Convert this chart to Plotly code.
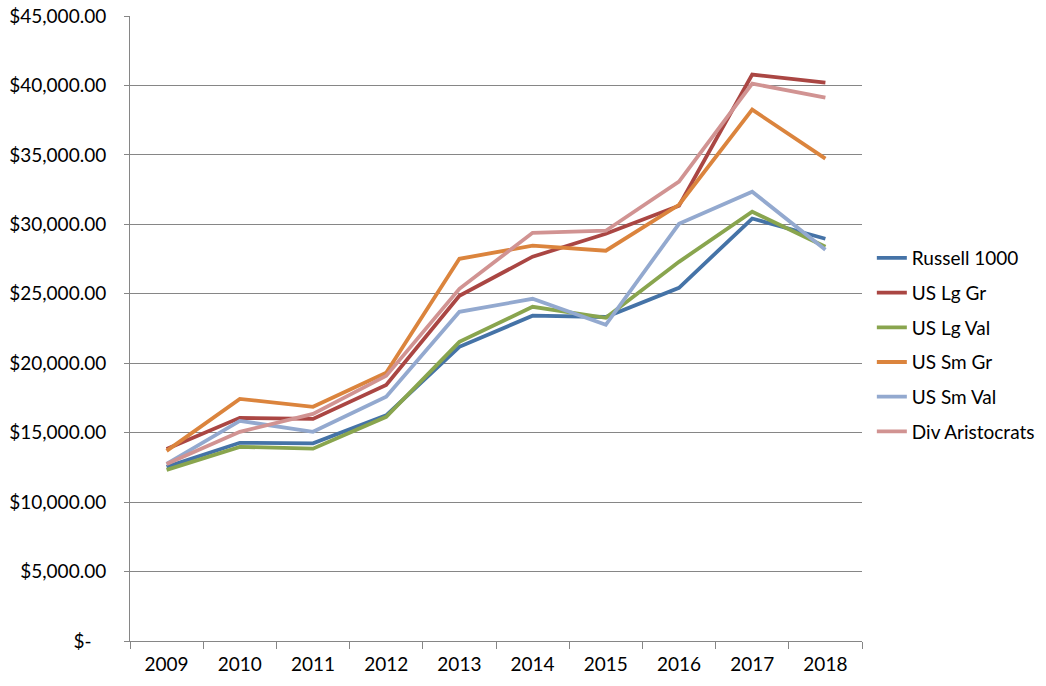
import plotly.graph_objects as go

years = ["2009", "2010", "2011", "2012", "2013", "2014", "2015", "2016", "2017", "2018"]

russell_1000 = [12540, 14270, 14230, 16250, 21180, 23420, 23330, 25430, 30420, 28960]
us_lg_gr = [13830, 16070, 15990, 18440, 24860, 27670, 29320, 31340, 40780, 40200]
us_lg_val = [12320, 13980, 13850, 16140, 21540, 24060, 23270, 27300, 30910, 28390]
us_sm_gr = [13690, 17430, 16860, 19310, 27520, 28460, 28100, 31410, 38260, 34730]
us_sm_val = [12750, 15850, 15060, 17580, 23700, 24640, 22770, 30040, 32350, 28170]
div_aristocrats = [12750, 15060, 16350, 19090, 25360, 29390, 29540, 33070, 40130, 39120]

series_names = ["Russell 1000", "US Lg Gr", "US Lg Val", "US Sm Gr", "US Sm Val", "Div Aristocrats"]
series_values = [russell_1000, us_lg_gr, us_lg_val, us_sm_gr, us_sm_val, div_aristocrats]
colors = ["#4573A7", "#AA4643", "#89A54E", "#DB843D", "#93A9CF", "#D19392"]

tick_vals = [0, 5000, 10000, 15000, 20000, 25000, 30000, 35000, 40000, 45000]
tick_text = ["$-\u00a0\u00a0\u00a0"] + ["${:,.2f}".format(v) for v in tick_vals[1:]]

fig = go.Figure()
for i, (name, vals, col) in enumerate(zip(series_names, series_values, colors)):
    fig.add_trace(go.Scatter(
        x=years, y=vals, name=name, mode="lines",
        line=dict(color=col, width=3.8),
        legendgroup=f"g{i}",
    ))

font = "Lato, Carlito, 'Open Sans', sans-serif"
fig.update_layout(
    width=1046, height=686,
    margin=dict(l=130, r=184, t=16, b=45, autoexpand=False),
    paper_bgcolor="white", plot_bgcolor="white",
    font=dict(family=font, size=19, color="#000000"),
    showlegend=True,
    legend=dict(
        xref="container", yref="container",
        x=0.8335, y=0.497, xanchor="left", yanchor="middle",
        traceorder="grouped", tracegroupgap=7,
        font=dict(family=font, size=19, color="#000000"),
        itemwidth=30,
    ),
    xaxis=dict(
        type="category", range=[-0.5, 9.5], automargin=False,
        showgrid=False, showline=True, linecolor="#868686", linewidth=1,
        ticks="outside", tickson="boundaries", ticklen=7, tickcolor="#868686",
        tickfont=dict(family=font, size=19),
        ticklabelstandoff=6,
    ),
    yaxis=dict(
        range=[0, 45000], tickmode="array", tickvals=tick_vals, ticktext=tick_text,
        automargin=False, ticklabeloverflow="allow",
        showgrid=True, gridcolor="#868686", gridwidth=1,
        showline=True, linecolor="#868686", linewidth=1,
        ticks="outside", ticklen=5, tickcolor="#868686",
        tickfont=dict(family=font, size=19),
        ticklabelstandoff=14,
        zeroline=False,
    ),
)

fig.write_html("out.html", config={"displayModeBar": False},
               post_script="document.body.style.margin='0';document.body.style.overflow='hidden';")
